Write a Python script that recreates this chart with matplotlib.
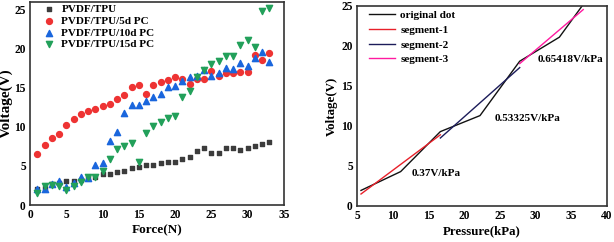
import matplotlib
matplotlib.use("Agg")
import matplotlib.pyplot as plt

plt.rcParams['font.family'] = ['Liberation Serif', 'DejaVu Serif']
plt.rcParams['font.weight'] = 'bold'

# left panel: voltage vs force
force = list(range(1, 34))
v_pure = [2.1, 2.2, 2.7, 2.8, 3.0, 3.0, 3.2, 3.4, 3.6, 3.96, 3.96, 4.17, 4.38, 4.77, 4.9, 5.1, 5.1,
          5.3, 5.5, 5.5, 5.87, 6.13, 6.9, 7.24, 6.68, 6.68, 7.24, 7.24, 7.0, 7.24, 7.53, 7.83, 8.0]
v_5d = [6.57, 7.7, 8.5, 9.1, 10.2, 11.0, 11.6, 12.0, 12.25, 12.6, 12.9, 13.5, 14.07, 15.1, 15.3, 14.2, 15.3,
        15.7, 15.97, 16.3, 16.1, 15.5, 16.1, 16.1, 17.1, 16.5, 16.8, 16.9, 17.0, 17.0, 19.2, 18.55, 19.45]
v_10d = [2.1, 2.0, 2.7, 3.1, 2.3, 2.8, 3.6, 3.5, 5.1, 5.3, 8.2, 9.3, 11.7, 12.8, 12.8, 13.3, 13.8,
         14.2, 15.0, 15.2, 15.8, 16.35, 16.5, 17.2, 16.5, 16.9, 17.5, 17.3, 18.1, 17.7, 18.7, 19.5, 18.3]
v_15d = [1.5, 2.4, 2.6, 2.4, 1.9, 2.45, 2.9, 3.6, 3.6, 4.36, 5.9, 7.1, 7.5, 7.9, 5.55, 9.2, 10.1,
         10.6, 11.06, 11.3, 13.8, 14.5, 16.35, 17.2, 18.05, 18.4, 19.0, 19.0, 20.4, 21.0, 20.2, 24.7, 25.1]

# right panel: voltage vs pressure with linear segments
pressure = [5.56, 11.11, 16.67, 22.22, 27.78, 33.33, 36.67]
v_orig = [1.95, 4.3, 9.3, 11.3, 18.1, 21.1, 25.2]
seg1_x, seg1_y = [5.56, 16.67], [1.5, 8.9]
seg2_x, seg2_y = [16.67, 27.78], [8.5, 17.3]
seg3_x, seg3_y = [27.78, 36.67], [17.8, 24.55]
slopes = ['0.37V/kPa', '0.53325V/kPa', '0.65418V/kPa']
slope_pos = [(12.7, 4.0), (24.2, 11.0), (30.3, 18.3)]

fig = plt.figure(figsize=(6.14, 2.42), dpi=100)
W, H = 614, 242

ax1 = fig.add_axes([30 / W, 1 - 205 / H, 254 / W, 203 / H])
ax1.scatter(force, v_pure, marker='s', s=11, color='#3c3c3c', label='PVDF/TPU', zorder=3)
ax1.scatter(force, v_5d, marker='o', s=18, color='#ee3333', label='PVDF/TPU/5d PC', zorder=3)
ax1.scatter(force, v_10d, marker='^', s=20, color='#1a66dd', label='PVDF/TPU/10d PC', zorder=3)
ax1.scatter(force, v_15d, marker='v', s=20, color='#22a05a', label='PVDF/TPU/15d PC', zorder=3)
ax1.set_xlim(0, 35)
ax1.set_ylim(0, 25.9)
ax1.set_xticks([0, 5, 10, 15, 20, 25, 30, 35])
ax1.set_yticks([0, 5, 10, 15, 20, 25])
ax1.set_xlabel('Force(N)', fontsize=9.5, fontweight='bold', labelpad=2)
ax1.set_ylabel('Voltage(V)', fontsize=11, fontweight='bold')
ax1.yaxis.set_label_coords(-0.066, 0.5)
ax1.legend(loc='upper left', bbox_to_anchor=(0.045, 1.0), frameon=False, fontsize=8,
           handlelength=1.0, handletextpad=0.6, labelspacing=0.18, borderpad=0.2,
           scatterpoints=1, borderaxespad=0)

ax2 = fig.add_axes([357 / W, 1 - 206 / H, 250 / W, 200 / H])
ax2.plot(pressure, v_orig, color='#111111', lw=1.0, label='original dot')
ax2.plot(seg1_x, seg1_y, color='#e8202a', lw=1.0, label='segment-1')
ax2.plot(seg2_x, seg2_y, color='#1c1c5a', lw=1.0, label='segment-2')
ax2.plot(seg3_x, seg3_y, color='#ff1aa0', lw=1.0, label='segment-3')
for txt, (x, y) in zip(slopes, slope_pos):
    ax2.text(x, y, txt, fontsize=8, fontweight='bold', va='center', ha='left')
ax2.set_xlim(5, 40)
ax2.set_ylim(0, 25)
ax2.set_xticks([5, 10, 15, 20, 25, 30, 35, 40])
ax2.set_yticks([0, 5, 10, 15, 20, 25])
ax2.set_xlabel('Pressure(kPa)', fontsize=9.3, fontweight='bold', labelpad=2)
ax2.set_ylabel('Voltage(V)', fontsize=9.3, fontweight='bold')
ax2.yaxis.set_label_coords(-0.076, 0.5)
ax2.legend(loc='upper left', bbox_to_anchor=(0.04, 0.99), frameon=False, fontsize=8,
           handlelength=2.3, handletextpad=0.5, labelspacing=0.45, borderpad=0.2,
           borderaxespad=0)

for ax in (ax1, ax2):
    for sp in ax.spines.values():
        sp.set_color('#333333')
        sp.set_linewidth(1.2)
    ax.tick_params(direction='in', length=0, labelsize=8.3, pad=3)
    for lab in ax.get_xticklabels() + ax.get_yticklabels():
        lab.set_fontweight('bold')

fig.savefig('out.png', dpi=100)
